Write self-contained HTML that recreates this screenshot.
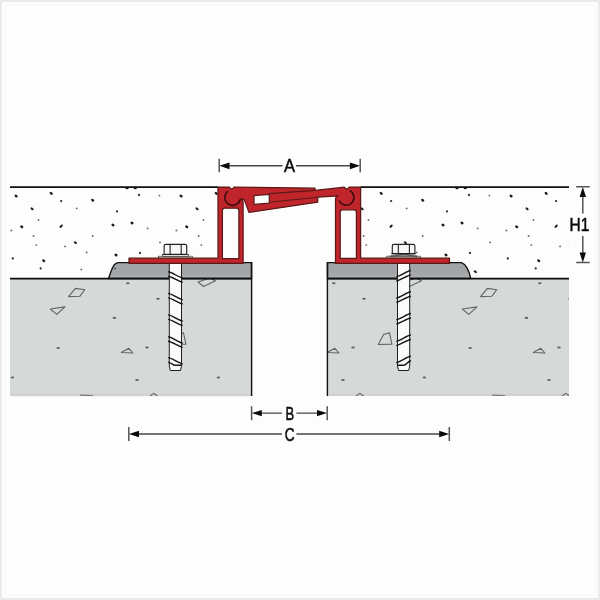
<!DOCTYPE html>
<html><head><meta charset="utf-8"><style>
html,body{margin:0;padding:0;background:#fff;}
svg{display:block;}
text{font-family:"Liberation Sans",sans-serif;}
</style></head><body>
<svg width="600" height="600" viewBox="0 0 600 600">
<defs>
<pattern id="dots" patternUnits="userSpaceOnUse" x="10" y="0" width="165" height="600">
<g transform="translate(-10,0)"><ellipse cx="16.1" cy="196.0" rx="1.75" ry="1.25" transform="rotate(40 16.1 196.0)" fill="#1a1a1a"/><ellipse cx="51.2" cy="193.4" rx="1.75" ry="1.25" transform="rotate(40 51.2 193.4)" fill="#1a1a1a"/><circle cx="61.1" cy="201.1" r="1.15" fill="#333"/><ellipse cx="92.7" cy="200.2" rx="1.75" ry="1.25" transform="rotate(40 92.7 200.2)" fill="#1a1a1a"/><ellipse cx="32.1" cy="208.8" rx="1.8" ry="1.1" transform="rotate(35 32.1 208.8)" fill="#1e1e1e"/><circle cx="76.7" cy="208.4" r="0.95" fill="#6a6a6a"/><circle cx="38.5" cy="220.0" r="0.95" fill="#6a6a6a"/><ellipse cx="21.7" cy="226.8" rx="1.75" ry="1.25" transform="rotate(40 21.7 226.8)" fill="#1a1a1a"/><ellipse cx="61.1" cy="226.2" rx="2" ry="1.1" transform="rotate(-45 61.1 226.2)" fill="#1e1e1e"/><circle cx="11.4" cy="230.5" r="0.95" fill="#6a6a6a"/><circle cx="33.6" cy="236.0" r="0.95" fill="#6a6a6a"/><circle cx="92.7" cy="236.0" r="0.95" fill="#6a6a6a"/><circle cx="36.3" cy="245.1" r="0.95" fill="#6a6a6a"/><ellipse cx="75.4" cy="242.6" rx="1.8" ry="1.1" transform="rotate(35 75.4 242.6)" fill="#1e1e1e"/><circle cx="65.1" cy="246.4" r="0.95" fill="#6a6a6a"/><circle cx="86.6" cy="252.5" r="0.95" fill="#6a6a6a"/><circle cx="12.8" cy="258.5" r="1.15" fill="#333"/><ellipse cx="43.7" cy="260.7" rx="1.75" ry="1.25" transform="rotate(40 43.7 260.7)" fill="#1a1a1a"/><circle cx="40.7" cy="268.4" r="1.15" fill="#333"/><circle cx="81.3" cy="269.4" r="0.95" fill="#6a6a6a"/><circle cx="139.0" cy="195.0" r="1.15" fill="#333"/><circle cx="159.4" cy="195.6" r="0.95" fill="#6a6a6a"/><circle cx="117.0" cy="211.4" r="1.15" fill="#333"/><ellipse cx="113.0" cy="225.0" rx="1.75" ry="1.25" transform="rotate(40 113.0 225.0)" fill="#1a1a1a"/><ellipse cx="132.0" cy="223.0" rx="1.75" ry="1.25" transform="rotate(40 132.0 223.0)" fill="#1a1a1a"/><circle cx="147.6" cy="228.4" r="0.95" fill="#6a6a6a"/><circle cx="160.0" cy="242.4" r="0.95" fill="#6a6a6a"/><ellipse cx="116.0" cy="255.0" rx="1.75" ry="1.25" transform="rotate(40 116.0 255.0)" fill="#1a1a1a"/><circle cx="140.0" cy="253.0" r="1.15" fill="#333"/><ellipse cx="145.3" cy="271.7" rx="1.8" ry="1.1" transform="rotate(35 145.3 271.7)" fill="#1e1e1e"/><ellipse cx="127" cy="188.3" rx="1.6" ry="1" fill="#111"/><ellipse cx="135.3" cy="188.3" rx="1.6" ry="1" fill="#111"/></g>
</pattern>
<pattern id="stones" patternUnits="userSpaceOnUse" x="10" y="0" width="206" height="600">
<g transform="translate(-10,0)"><g fill="none" stroke="#626464" stroke-width="1.1" stroke-linejoin="round"><polygon points="68.6,296.6 75.3,288.4 84.8,289.7 79.8,296.3"/><polygon points="50.3,309 65,306.9 56.8,314.4"/><polygon points="121.3,352.5 128.8,348.3 133,353"/><polygon points="172.3,344.5 177.5,334.5 183.5,332.9 185.9,344.1"/><polygon points="198,282 203.5,286.5 215.5,280.8 210,278"/><polyline points="150,396 153.8,393.4 157.6,396"/><path d="M80,395.2 L93,395.6" stroke="#777" stroke-width="1.2"/></g><ellipse cx="114.4" cy="317.9" rx="1.8" ry="1.05" fill="#5f6363"/><ellipse cx="58.1" cy="348.0" rx="1.8" ry="1.05" fill="#5f6363"/><ellipse cx="12.4" cy="377.5" rx="1.8" ry="1.05" fill="#5f6363"/><ellipse cx="127.8" cy="283.2" rx="1.8" ry="1.05" fill="#5f6363"/><ellipse cx="158.0" cy="298.8" rx="1.8" ry="1.05" fill="#5f6363"/><ellipse cx="147.0" cy="347.5" rx="1.8" ry="1.05" fill="#5f6363"/><ellipse cx="137.0" cy="380.0" rx="1.8" ry="1.05" fill="#5f6363"/></g>
</pattern>
<linearGradient id="plg" x1="0" y1="0" x2="0" y2="1"><stop offset="0" stop-color="#a3a5a9"/><stop offset="0.6" stop-color="#a1a4a8"/><stop offset="1" stop-color="#adafb2"/></linearGradient>
</defs>
<rect width="600" height="600" fill="#fdfdfd"/>
<!-- faint border -->
<rect x="1" y="1" width="598" height="598" fill="none" stroke="#e8e8e8" stroke-width="1.8"/>
<rect x="5.3" y="5.3" width="590.4" height="590.4" fill="none" stroke="#f5f5f5" stroke-width="1"/>

<!-- upper layer dots -->
<rect x="10" y="188" width="208" height="90" fill="url(#dots)"/>
<rect x="361" y="188" width="208" height="90" fill="url(#dots)"/>

<!-- concrete blocks -->
<rect x="10" y="278" width="241.5" height="118.1" fill="#d5d9d8"/><rect x="10" y="393.5" width="241.5" height="2.6" fill="#d1d1d2"/>
<rect x="327.5" y="278" width="241.5" height="118" fill="#d5d9d8"/><rect x="327.5" y="393.4" width="241.5" height="2.6" fill="#d1d1d2"/>
<rect x="10" y="278" width="241.5" height="118" fill="url(#stones)"/>
<rect x="327.5" y="278" width="241.5" height="118" fill="url(#stones)"/>

<!-- plates -->
<path d="M108.6,278.5 C110,274 111.5,269.5 113.2,266.5 Q115,262.8 118.8,262.6 L251.5,262.6 L251.5,278.5 Z" fill="url(#plg)" stroke="#111" stroke-width="1.45"/><ellipse cx="115" cy="268.6" rx="1.1" ry="0.9" fill="#555"/>
<path d="M327.5,278.5 L327.5,262.6 L461.4,262.6 C466.8,264.6 469.4,272 470.7,278.5 Z" fill="url(#plg)" stroke="#111" stroke-width="1.45"/>

<!-- concrete top lines & edges -->
<path d="M10,278.6 L251.5,278.6 M327.5,278.6 L569,278.6" stroke="#0d0d0d" stroke-width="1.8"/>
<path d="M251.6,262 L251.6,396 M327.4,262 L327.4,396" stroke="#111" stroke-width="1.4"/>
<!-- upper top lines -->
<path d="M10,187.1 L218,187.1 M360.6,187.1 L569,187.1" stroke="#111" stroke-width="1.8"/>

<!-- bolts -->
<g>
<path d="M169.3,262 L181.5,262 L181.5,366 L180.5,370.5 L170.3,370.5 L169.3,366 Z" fill="#fbfbfb" stroke="#1e1e1e" stroke-width="1"/>

<g fill="none" stroke="#151515" stroke-width="1.4"><path d="M168.1,271.7 C172.3,272.2 177.5,276.8 182.7,278.1"/><path d="M168.1,276.2 C172.3,276.7 177.5,281.0 182.7,282.3"/><path d="M168.1,293.4 C172.3,293.9 177.5,298.5 182.7,299.8"/><path d="M168.1,297.9 C172.3,298.4 177.5,302.7 182.7,304.0"/><path d="M168.1,314.9 C172.3,315.4 177.5,320.0 182.7,321.3"/><path d="M168.1,319.4 C172.3,319.9 177.5,324.2 182.7,325.5"/><path d="M168.1,336.8 C172.3,337.3 177.5,341.9 182.7,343.2"/><path d="M168.1,341.3 C172.3,341.8 177.5,346.1 182.7,347.4"/><path d="M168.1,357.6 C172.3,358.1 177.5,362.7 182.7,364.0"/><path d="M168.1,362.1 C171.3,362.7 172.8,365.3 175.3,365.3 L181.9,365.3"/></g>
<rect x="158.5" y="256.2" width="33.8" height="2" fill="#f2f2f2" stroke="#3a3a3a" stroke-width="0.7"/>
<rect x="162.4" y="254.4" width="26" height="1.9" fill="#f2f2f2" stroke="#3a3a3a" stroke-width="0.8"/>
<path d="M164.1,254.4 L164.1,246 Q164.1,244.3 165.8,244.3 L185.0,244.3 Q186.70000000000002,244.3 186.70000000000002,246 L186.70000000000002,254.4 Z" fill="#f7f7f7" stroke="#222" stroke-width="1.15"/>
<path d="M170.1,244.8 L170.1,254.4 M181.20000000000002,244.8 L181.20000000000002,254.4" stroke="#222" stroke-width="1.1"/>
</g>
<g>
<path d="M397.5,262 L409.70000000000005,262 L409.70000000000005,366 L408.70000000000005,370.5 L398.5,370.5 L397.5,366 Z" fill="#fbfbfb" stroke="#1e1e1e" stroke-width="1"/>

<g fill="none" stroke="#151515" stroke-width="1.4"><path d="M410.9,270.5 C406.7,271.0 401.5,275.6 396.3,276.9"/><path d="M410.9,275.0 C406.7,275.5 401.5,279.8 396.3,281.1"/><path d="M410.9,291.8 C406.7,292.3 401.5,296.9 396.3,298.2"/><path d="M410.9,296.3 C406.7,296.8 401.5,301.1 396.3,302.4"/><path d="M410.9,313.5 C406.7,314.0 401.5,318.6 396.3,319.9"/><path d="M410.9,318.0 C406.7,318.5 401.5,322.8 396.3,324.1"/><path d="M410.9,335.0 C406.7,335.5 401.5,340.1 396.3,341.4"/><path d="M410.9,339.5 C406.7,340.0 401.5,344.3 396.3,345.6"/><path d="M410.9,356.3 C406.7,356.8 401.5,361.4 396.3,362.7"/><path d="M410.9,360.8 C407.7,361.4 406.2,365.3 403.7,365.3 L397.1,365.3"/></g>
<rect x="386.70000000000005" y="256.2" width="33.8" height="2" fill="#f2f2f2" stroke="#3a3a3a" stroke-width="0.7"/>
<polygon points="391.4,253.6 415.8,253.6 389.8,256.2 417.2,256.2" fill="#f2f2f2" stroke="#3a3a3a" stroke-width="0.8"/>
<path d="M392.3,253.6 L392.3,246 Q392.3,244.3 394.0,244.3 L413.20000000000005,244.3 Q414.90000000000003,244.3 414.90000000000003,246 L414.90000000000003,253.6 Z" fill="#f7f7f7" stroke="#222" stroke-width="1.15"/>
<path d="M398.3,244.8 L398.3,253.6 M409.40000000000003,244.8 L409.40000000000003,253.6" stroke="#222" stroke-width="1.1"/>
</g>

<!-- profile (outer silhouette) -->
<path d="M129,258.2 L218,258.2 L218,187 L229.3,187 Q231.7,190.8 234.1,187 L315,188.2 L315,190.4 L340,187.7 L344.2,187.2 Q346.6,190.8 349.2,187 L360.6,187 L360.6,258.2 L449.5,258.2 L449.5,263.4 L335.5,263.4 L335.5,200 Q335.5,196.2 338.2,195.9 L317.7,197.2 L317.7,202.2 L249,212.4 L244.6,200.6 Q243.4,198.8 240.8,199 Q242.9,199.8 243.1,202 L243.1,263.4 L129,263.4 Z" fill="#c0252b" stroke="#5a1816" stroke-width="1.25" stroke-linejoin="round"/>
<g fill="#fdfdfd" stroke="#5a1816" stroke-width="1.25" stroke-linejoin="round">
<path d="M222.4,258.5 L222.4,210.6 Q222.4,208.2 224.8,208.2 L236.5,208.2 Q238.9,208.2 238.9,210.6 L238.9,258.5 Z"/>
<path d="M340.2,258.3 L340.2,212.1 Q340.2,209.8 342.5,209.8 L354.1,209.8 Q356.4,209.8 356.4,212.1 L356.4,258.3 Z"/>
<path d="M254,195.6 L269.3,194.4 L269.3,203.2 L254,204.4 Z"/>
</g>
<g fill="none" stroke="#5a1816" stroke-width="1.1">
<path d="M269.3,193.6 L315,190.4"/>
<path d="M269.3,202.3 L317.7,197.2"/>
<path d="M228.06,191.01 A7.9,7.9 0 1 0 240.37,199.31" stroke="#3c0c0c" stroke-width="1.55"/>
<path d="M349.86,190.61 A7.8,7.8 0 1 1 339.02,200.55" stroke="#3c0c0c" stroke-width="1.55"/>
</g>
<!-- dimension A -->
<g stroke="#474747" fill="none">
<path d="M219.2,158.7 L219.2,172.2 M360.2,158.7 L360.2,172.2" stroke="#555" stroke-width="1.5"/>
<path d="M228,165.8 L282.5,165.8 M296,165.8 L351,165.8" stroke-width="1.4"/>
<path d="M128.8,427 L128.8,441 M449.3,427 L449.3,441" stroke="#555" stroke-width="1.5"/>
<path d="M138,434 L282,434 M296.4,434 L440,434" stroke-width="1.4"/>
<path d="M251.6,406.3 L251.6,420.3 M327.2,406.3 L327.2,420.3" stroke="#555" stroke-width="1.5"/>
<path d="M261,413.1 L282,413.1 M296.4,413.1 L318,413.1" stroke-width="1.4"/>
<path d="M576.2,186.8 L589.7,186.8 M576.2,262.6 L589.7,262.6" stroke="#555" stroke-width="1.5"/>
<path d="M582.8,196 L582.8,213.5 M582.8,236 L582.8,254" stroke-width="1.4"/>
</g>
<g fill="#0a0a0a">
<polygon points="219.4,165.8 229.5,162.4 229.5,169.2"/>
<polygon points="360,165.8 349.9,162.4 349.9,169.2"/>
<polygon points="129,434 139,430.8 139,437.2"/>
<polygon points="449.1,434 439.2,430.8 439.2,437.2"/>
<polygon points="251.8,413.1 261.8,409.9 261.8,416.3"/>
<polygon points="327,413.1 317,409.9 317,416.3"/>
<polygon points="582.8,187 579.6,197 586,197"/>
<polygon points="582.8,262.4 579.6,252.5 586,252.5"/>
</g>
<g opacity="0.995" font-size="18" fill="#0a0a0a" stroke="#0a0a0a" stroke-width="0.55" text-anchor="middle">
<text transform="translate(289.6,171.8) scale(0.92,1)">A</text>
<text transform="translate(289.8,419.6) scale(0.72,1)">B</text>
<text transform="translate(289.6,440.6) scale(0.76,1)">C</text>
<text transform="translate(579.4,230.6) scale(0.86,1)">H1</text>
</g>
</svg>
</body></html>
